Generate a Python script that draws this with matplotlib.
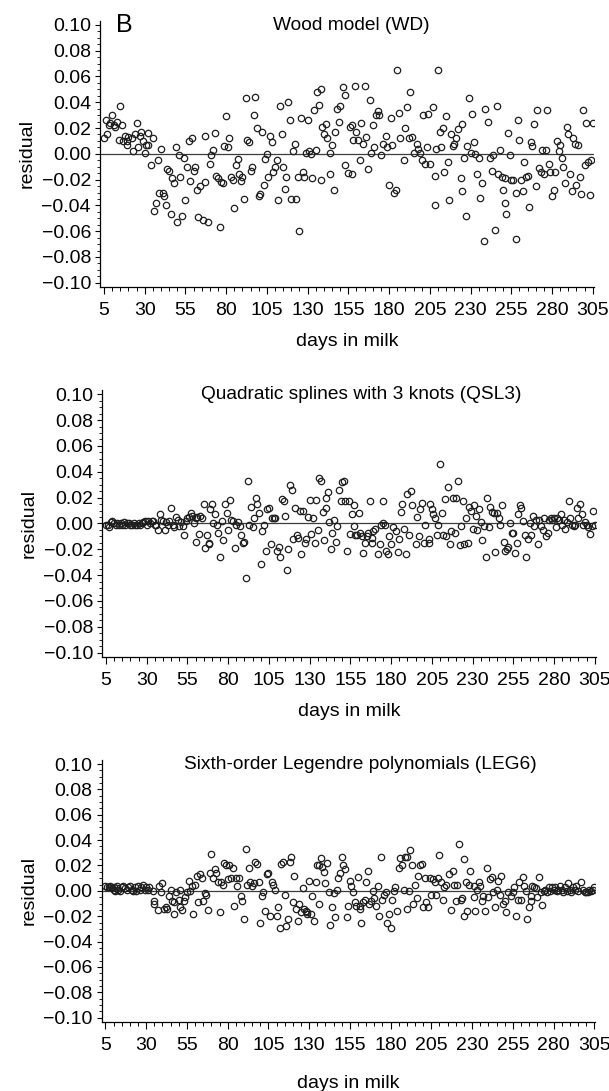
import numpy as np
import matplotlib
matplotlib.use('Agg')
import matplotlib.pyplot as plt
from matplotlib.ticker import MultipleLocator, FuncFormatter

plt.rcParams['font.family'] = ['Liberation Sans', 'DejaVu Sans']

# residuals are stored in units of 0.001
wd_day = [5, 6, 7, 8, 9, 10, 11, 12, 13, 14,
          15, 16, 17, 18, 19, 19, 20, 22, 23, 24,
          25, 26, 27, 28, 29, 30, 31, 32, 32, 34,
          35, 36, 37, 38, 39, 40, 41, 42, 43, 44,
          45, 46, 47, 48, 49, 50, 51, 52, 53, 54,
          55, 56, 57, 58, 59, 60, 61, 62, 63, 64,
          66, 67, 67, 69, 70, 71, 72, 73, 74, 75,
          76, 77, 78, 79, 80, 81, 82, 83, 84, 85,
          86, 87, 88, 89, 90, 91, 92, 93, 94, 95,
          96, 97, 98, 99, 100, 101, 102, 103, 104, 105,
          106, 107, 108, 109, 110, 111, 112, 113, 114, 115,
          116, 117, 118, 119, 120, 121, 122, 123, 124, 125,
          126, 127, 128, 129, 130, 131, 132, 133, 134, 135,
          136, 137, 138,
          138, 139, 140, 141, 142, 144, 144, 145, 146, 147,
          148, 149, 150, 152, 153, 153, 155, 156, 157, 157,
          158, 159, 160, 161, 162, 163, 164, 165, 166, 167,
          168, 169, 170, 171, 172, 173, 174, 175, 176, 178,
          179, 180, 181, 182, 183, 184, 185, 186, 187, 189,
          190, 191, 192, 193, 194, 195, 197, 198, 199, 200,
          201, 202, 203, 204, 205, 207, 208, 208, 209, 210,
          211, 212, 213, 214, 215, 216, 217, 218, 219, 220,
          221, 222, 224, 225, 225, 226, 227, 228, 229, 230,
          231, 232, 233, 234, 235, 236, 237, 238, 239, 241,
          242, 243, 244, 245, 246, 247, 248, 249, 250, 251,
          251, 252, 253, 254, 255, 256, 258, 258, 259, 260,
          261, 262, 263, 264, 265, 266, 267, 268, 269, 270,
          271, 272, 273, 274, 275, 276, 277, 278, 279, 280,
          281, 282, 283, 284, 285, 286, 287, 288, 289, 290,
          291, 292, 293, 294, 295, 296, 297, 298, 299, 300,
          301, 302, 303, 304, 305]
wd_res = [12, 26, 15, 22, 24, 30, 22, 21, 25, 11,
          37, 22, 10, 14, 7, 10, 13, 12, 2, 15,
          24, 5, 14, 17, 10, 1, 7, 16, 7, -9,
          12, -44, -38, -5, -30, 4, -30, -33, -40, -12,
          -13, -47, -19, -23, 5, -53, -1, -18, -48, -3,
          -36, -10, 10, -21, 12, -13, -10, -28, -49, -25,
          -51, 14, -22, -53, -8, -1, 3, 16, -17, -19,
          -57, -22, -23, 6, 29, 5, 12, -18, -20, -42,
          -9, -4, -16, -21, -18, -35, 43, 11, 9, -13,
          -10, 30, 44, 20, -33, -31, 17, -24, -4, 0,
          -18, 14, 9, -14, -10, -5, -36, 37, 15, -10,
          -27, -18, 40, 26, -35, 2, 8, -35, -18, -60,
          28, -14, -18, 1, 26, 2, 0, -19, 34, 3,
          48, 38, 50,
          -20, 21, 15, 23, 12, -16, 1, 7, -28, 17,
          35, 25, 37, 52, -9, 46, -15, 21, 22, -16,
          11, 53, 17, 11, -5, 24, 8, 53, 13, -12,
          42, 1, 22, 5, 30, 33, 30, -1, 8, 14,
          5, -24, 28, 7, -30, -28, 65, 32, 12, -5,
          20, 36, 12, 48, 13, 1, 8, 4, 1, -5,
          30, -8, 5, 31, -8, 36, -17, -40, 4, 65,
          17, 5, 20, -14, 29, -6, -36, 15, 6, 8,
          12, 19, -19, 23, -29, -3, -48, 6, 43, 1,
          31, 9, 0, -16, -3, -34, -23, -68, 35, 25,
          -3, -13, -1, -59, 37, -16, 3, -18, -28, -19,
          -38, -47, 16, -1, -20, -20, -66, -30, 26, 11,
          -20, -29, -6, -18, -17, -41, 9, 6, 23, -25,
          34, -11, -14, 3, -16, 3, 34, -8, -14, -33,
          -28, -14, 10, 2, 7, -3, -10, -23, 21, 15,
          -16, -29, 12, 8, -24, 7, -18, -31, 34, -9,
          24, -6, -32, -5, 24]

qsl_day = [5, 6, 7, 8, 9, 10, 11, 12, 13, 14,
           15, 16, 17, 18, 19, 20, 21, 22, 23, 24,
           25, 26, 27, 28, 29, 30, 31, 32, 33, 34,
           35, 36, 37, 38, 39, 40, 41, 42, 43, 44,
           45, 46, 47, 48, 49, 50, 51, 52, 53, 54,
           55, 56, 57, 58, 59, 60, 60, 61, 62, 63,
           64, 65, 66, 67, 68, 68, 69, 70, 71, 72,
           73, 74, 75, 76, 77, 78, 79, 80, 81, 82,
           83, 84, 85, 86, 87, 88, 89, 90, 91, 92,
           93, 94, 95, 96, 97, 98, 99, 100, 101, 102,
           103, 104, 105, 106, 107, 108, 109, 110, 111, 112,
           113, 114, 115, 116, 117, 118, 119, 120, 121, 122,
           123, 124, 125, 126, 127, 128, 129, 130, 131, 132,
           133, 134, 135, 136, 137, 138, 139, 140, 140, 141,
           142, 143, 144, 145, 146, 147, 148, 149, 150, 151,
           152, 153, 154, 155, 156, 157, 157, 158, 159, 160,
           161, 162, 163, 164, 165, 166, 167, 168, 168, 169,
           170, 172, 173, 174, 175, 175, 176, 177, 178, 179,
           180, 181, 183, 184, 185, 186, 187, 188, 189, 190,
           191, 192, 193, 195, 196, 197, 198, 199, 200, 201,
           203, 203, 204, 205, 206, 207, 208, 209, 210, 211,
           212, 213, 214, 215, 216, 217, 218, 219, 220, 221,
           222, 223, 224, 225, 226, 227, 228, 229, 230, 231,
           232, 233, 234, 235, 236, 237, 238, 239, 240, 241,
           242, 243, 244, 245, 246, 247, 248, 249, 250, 251,
           252, 253, 254, 255, 256, 257, 258, 259, 260, 261,
           262, 263, 264, 265, 266, 267, 268, 269, 270, 271,
           272, 273, 274, 275, 276, 277, 278, 279, 280, 281,
           282, 283, 284, 285, 286, 287, 288, 289, 290, 291,
           292, 293, 294, 295, 296, 297, 298, 299, 300, 301,
           302, 303, 304, 305]
qsl_res = [-1, -1, -3, 1, 2, 0, -1, 0, -1, 0,
           -1, 1, -1, 0, 0, -1, -1, 0, -1, -1,
           0, -1, 0, 1, 2, -1, 2, 0, 2, 2,
           -1, -1, -5, 7, 3, 2, -5, 1, -1, 2,
           12, -1, -3, 5, 3, -2, 1, -2, -9, 2,
           4, 5, 8, 6, 0, 4, -14, 5, -8, 6,
           4, 15, -19, -9, -15, -16, 11, 15, 0, 7,
           -1, -7, -26, 2, -13, 15, 8, -5, 18, 3,
           2, -19, -1, 1, -2, -9, -15, -14, -42, 33,
           -1, 13, -3, 4, 20, 15, 8, -31, -6, -1,
           -21, 11, 12, -16, 4, 4, 4, -21, -18, -26,
           19, 17, 6, -36, -20, 30, 26, -12, 12, -9,
           -11, 10, -24, 10, -15, -12, 5, 18, -8, 4,
           -15, 18, -5, 35, 33, 9, -13, 20, 12, 24,
           1, -20, -7, 3, -14, -2, 26, 17, 32, 33,
           17, -21, 17, -8, 7, 14, -2, -9, -9, 8,
           -7, -10, -23, -15, -10, -7, 17, -15, -11, -6,
           -4, -24, -16, -1, 17, 0, -1, -21, -24, -10,
           -16, -3, -6, -22, -12, 9, 15, -4, -24, 23,
           -9, 25, 14, -16, 5, -10, 11, 16, -15, -1,
           -12, -15, 15, 11, 7, 4, -9, -1, 46, 8,
           -9, 19, -10, 28, -16, -6, 20, -7, 20, 33,
           -17, -2, 17, -16, 4, -15, 13, 10, -4, 14,
           6, -5, 11, 1, -13, -2, -26, 20, -3, 13,
           9, 8, -22, 8, 4, -1, 14, -14, -21, -20,
           -18, 0, -7, -7, -23, -15, 7, 14, 12, 2,
           -9, -26, -12, 0, -9, 6, -2, 3, -16, 3,
           -2, -5, 4, -10, -7, 3, 4, 3, 4, -3,
           4, 3, 7, -1, 3, -4, 1, 17, 4, -1,
           -2, -1, 12, 4, 15, 7, -1, 1, -1, -3,
           -8, -2, 10, -1]

leg_day = [5, 6, 7, 8, 9, 10, 10, 11, 12, 12,
           13, 14, 15, 16, 17, 18, 19, 20, 21, 22,
           23, 24, 25, 26, 27, 28, 29, 30, 31, 32,
           34, 35, 35, 37, 38, 39, 40, 41, 42, 43,
           44, 45, 46, 47, 47, 48, 50, 51, 51, 52,
           53, 54, 55, 56, 57, 58, 59, 60, 61, 62,
           63, 64, 65, 66, 67, 68, 69, 70, 71, 72,
           73, 74, 75, 76, 77, 78, 79, 80, 81, 82,
           83, 84, 85, 86, 87, 88, 89, 90, 91, 92,
           93, 94, 95, 96, 97, 98, 99, 100, 101, 102,
           103, 104, 105, 106, 107, 108, 109, 110, 111, 112,
           113, 114, 115, 116, 117, 118, 119, 120, 121, 122,
           123, 124, 125, 126, 127, 128, 129, 129, 130, 131,
           132, 133, 134, 135, 136, 137, 136, 138, 139, 140,
           141, 142, 143, 144, 145, 146, 147, 148, 149, 150,
           151, 152, 153, 154, 155, 156, 157, 158, 159, 160,
           161, 161, 162, 163, 164, 165, 166, 167, 168, 169,
           170, 171, 172, 173, 174, 175, 176, 177, 178, 179,
           180, 181, 182, 183, 184, 185, 186, 187, 188, 189,
           190, 190, 191, 192, 193, 194, 195, 196, 197, 198,
           199, 200, 201, 202, 203, 204, 205, 206, 207, 208,
           209, 210, 211, 212, 213, 214, 216, 217, 218, 219,
           220, 221, 222, 223, 224, 225, 225, 226, 227, 228,
           229, 231, 231, 232, 233, 234, 235, 236, 237, 238,
           239, 240, 241, 242, 243, 244, 245, 246, 247, 248,
           249, 250, 251, 252, 254, 255, 256, 257, 258, 259,
           260, 261, 262, 263, 264, 265, 266, 266, 267, 268,
           269, 270, 271, 272, 273, 274, 275, 276, 277, 278,
           279, 280, 281, 282, 283, 284, 285, 286, 287, 288,
           289, 290, 291, 292, 293, 294, 295, 297, 298, 299,
           300, 301, 302, 303, 304, 305]
leg_res = [4, 3, 3, 4, 2, 1, 3, 0, 2, 4,
           1, 0, 3, 4, 2, 1, 3, 4, 1, 0,
           3, 0, 4, 1, 3, 5, 1, 3, 1, 3,
           0, -8, -10, -15, 4, -1, 6, -14, -13, -14,
           -4, 1, -8, -18, -9, -1, -7, 1, -13, -15,
           -8, -5, -1, 8, 0, 4, -18, 5, 12, -9,
           13, 10, -8, -2, -3, -15, 14, 29, 10, 17,
           14, 7, -17, 7, 5, 22, 20, 9, 20, 10,
           18, -12, 10, 4, 10, -4, -8, -22, 33, 5,
           18, 7, 4, 6, 23, 21, 7, -25, -4, -1,
           -16, 13, 14, -20, 7, 5, 1, -20, -13, -29,
           21, 23, -3, -28, -22, 23, 27, -9, 12, -14,
           -24, -10, -17, 2, -14, -16, -17, -18, 8, -18,
           -4, -24, 7, 20, -10, 26, 20, 19, 15, 6,
           22, -1, -27, -13, -2, -21, 1, 10, 14, 27,
           20, 17, -21, -12, 8, 4, -1, -9, -12, 11,
           -12, -14, -25, -9, -7, 7, 16, -10, -8, 0,
           -6, -12, 4, -20, 27, -7, -3, -1, -25, -18,
           -29, -7, 0, 3, -16, 18, 26, 20, 1, 27,
           -14, 27, 0, 32, 20, -10, 5, -6, 12, 20,
           21, -13, 10, -9, -13, 10, -3, 9, 7, -3,
           10, 28, 7, -7, 3, 5, 13, -15, 16, 5,
           -8, 5, 37, -7, -6, 25, -20, 7, -16, 5,
           16, -5, 4, -16, 1, 7, 4, -8, -4, -16,
           18, -5, 9, 11, -1, -13, 1, 8, -3, 12,
           -10, -8, -17, -1, -4, -1, 3, -20, -7, 7,
           -7, 11, 4, 0, -22, -13, -4, -8, 4, 3,
           2, -5, 11, -1, -11, 0, 1, -1, 3, 0,
           3, 1, 3, 0, 1, 4, 1, -1, 3, 0,
           6, 1, -1, 3, 1, 4, 0, 7, 1, -1,
           -1, -1, 1, 0, 1, 3]

titles = ['Wood model (WD)',
          'Quadratic splines with 3 knots (QSL3)',
          'Sixth-order Legendre polynomials (LEG6)']
x_ticks = [5, 30, 55, 80, 105, 130, 155, 180, 205, 230, 255, 280, 305]

panels = [(wd_day, wd_res), (qsl_day, qsl_res), (leg_day, leg_res)]
# axes boxes in figure fractions [left, bottom, width, height]
boxes = [[0.1642, 0.7373, 0.8105, 0.2434],
         [0.1675, 0.3982, 0.8105, 0.2440],
         [0.1667, 0.0637, 0.8105, 0.2395]]
title_x = [0.51, 0.525, 0.525]
xlabel_pad = [10, 10, 15]

fig = plt.figure(figsize=(6.09, 10.91), dpi=100)

def fmt(v, pos):
    s = '%.2f' % v
    if s == '-0.00':
        s = '0.00'
    return s.replace('-', '\u2212')

for i, ((days, res), box) in enumerate(zip(panels, boxes)):
    assert len(days) == len(res)
    ax = fig.add_axes(box)
    ax.axhline(0, color='#3c3c3c', lw=0.9, zorder=1)
    ax.plot(np.array(days), np.array(res) / 1000.0, 'o', mfc='none',
            mec='#1e1e1e', ms=4.6, mew=0.9, zorder=2)
    ax.set_xlim(2.6, 305.5)
    ax.set_ylim(-0.103, 0.103)
    ax.set_xticks(x_ticks)
    ax.xaxis.set_minor_locator(MultipleLocator(5))
    ax.set_yticks(np.arange(-0.10, 0.1001, 0.02))
    ax.yaxis.set_minor_locator(MultipleLocator(0.005))
    ax.yaxis.set_major_formatter(FuncFormatter(fmt))
    for side in ['top', 'right']:
        ax.spines[side].set_visible(False)
    for side in ['left', 'bottom']:
        ax.spines[side].set_linewidth(0.9)
    ax.tick_params(axis='x', which='major', length=5, width=0.8, pad=6, labelsize=14)
    ax.tick_params(axis='x', which='minor', length=3, width=0.7)
    ax.tick_params(axis='y', which='major', length=3.5, width=0.8, pad=3, labelsize=14)
    ax.tick_params(axis='y', which='minor', length=2, width=0.6)
    ax.set_ylabel('residual', fontsize=14, labelpad=4)
    ax.set_xlabel('days in milk', fontsize=14, labelpad=xlabel_pad[i])
    ax.text(title_x[i], 0.985, titles[i], transform=ax.transAxes,
            ha='center', va='center', fontsize=13.8)
    if i == 0:
        ax.text(0.05, 0.985, 'B', transform=ax.transAxes, ha='center',
                va='center', fontsize=18)

fig.savefig('out.png', dpi=100)
